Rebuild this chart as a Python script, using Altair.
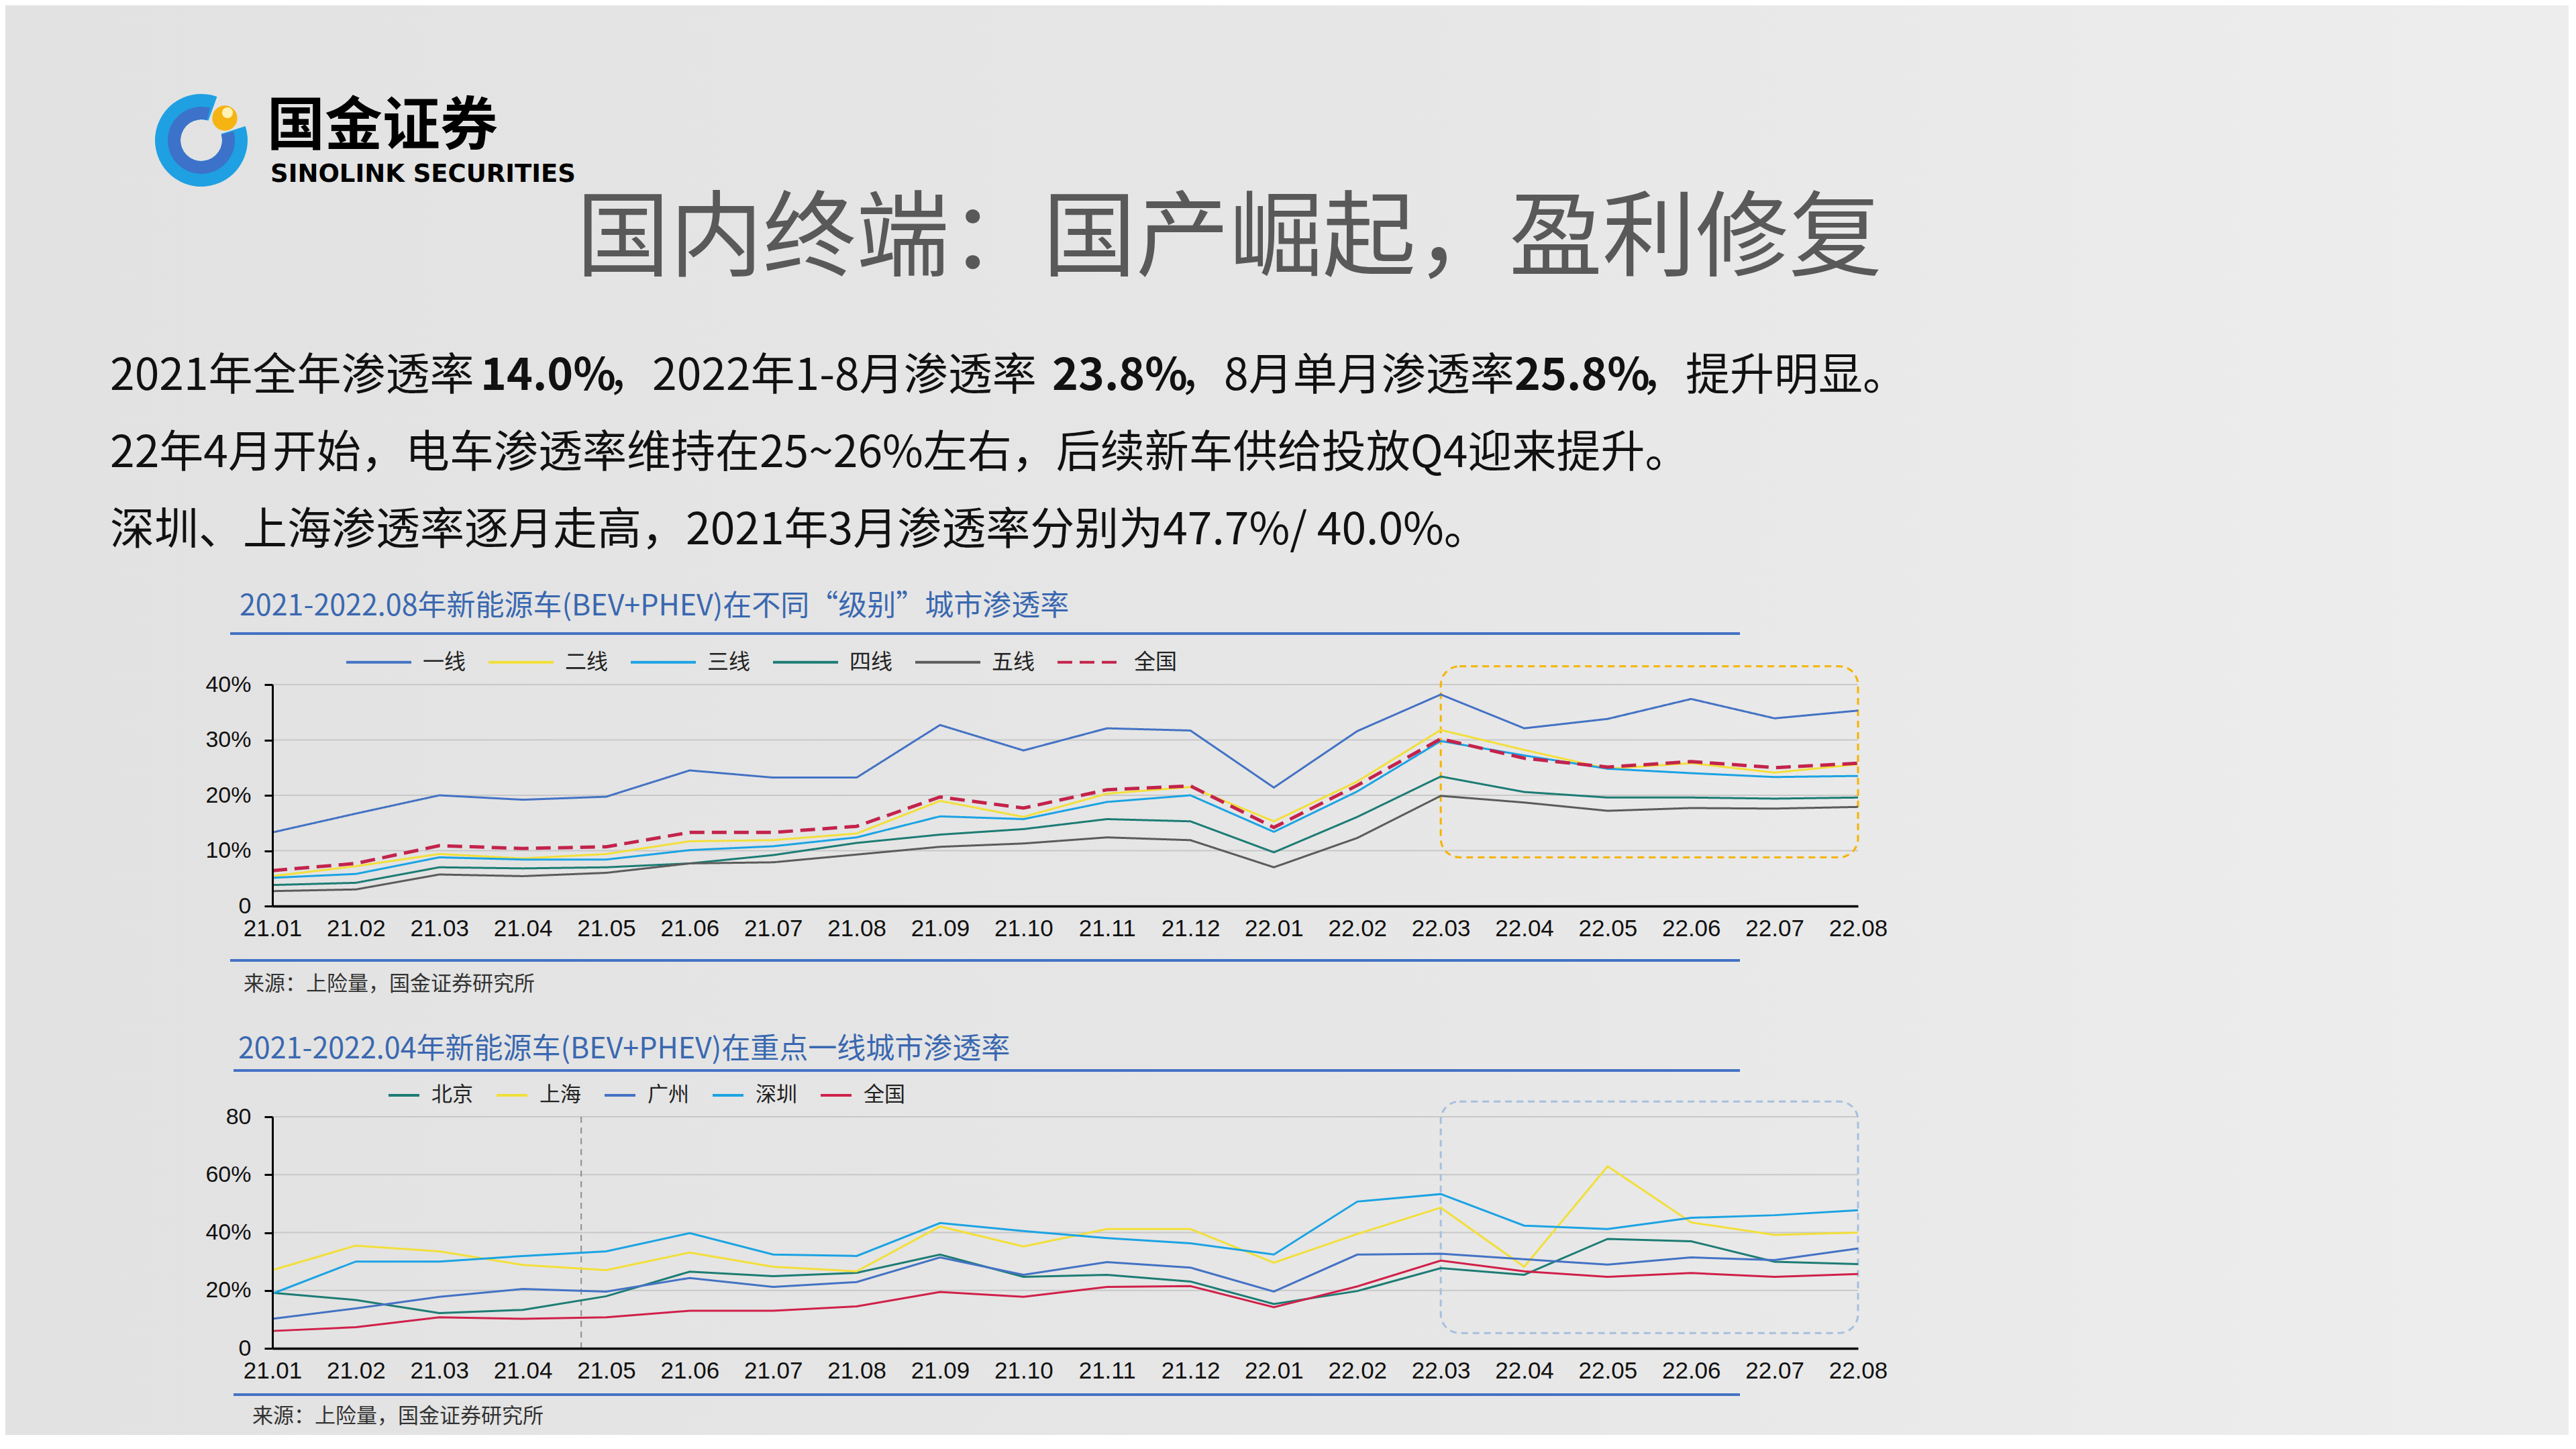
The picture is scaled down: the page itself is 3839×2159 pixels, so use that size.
import altair as alt
import pandas as pd

# ---------------- data ----------------
MONTHS = ["21.01", "21.02", "21.03", "21.04", "21.05", "21.06", "21.07", "21.08",
          "21.09", "21.10", "21.11", "21.12", "22.01", "22.02", "22.03", "22.04",
          "22.05", "22.06", "22.07", "22.08"]

SERIES1 = ["一线", "二线", "三线", "四线", "五线", "全国"]
COLORS1 = ["#4472C4", "#F2DF3A", "#1BA3E3", "#1D7C74", "#5B5B5B", "#C3234B"]
DASH1 = [[1, 0], [1, 0], [1, 0], [1, 0], [1, 0], [22, 11]]
TIER1 = [13.3, 16.7, 20.0, 19.2, 19.75, 24.5, 23.2, 23.2, 32.7, 28.1, 32.1, 31.7, 21.4, 31.6, 38.2, 32.1, 33.8, 37.4, 33.9, 35.3]
TIER2 = [5.4, 7.2, 9.4, 8.6, 9.4, 11.7, 11.9, 13.1, 19.0, 16.1, 20.3, 21.5, 15.3, 22.5, 31.8, 28.2, 24.8, 25.8, 24.1, 25.6]
TIER3 = [5.1, 5.8, 8.8, 8.4, 8.4, 10.1, 10.8, 12.4, 16.2, 15.7, 18.8, 20.0, 13.4, 20.7, 29.8, 27.2, 24.8, 24.0, 23.3, 23.5]
TIER4 = [3.8, 4.2, 7.0, 6.8, 7.0, 7.7, 9.2, 11.4, 12.9, 13.9, 15.7, 15.3, 9.7, 16.1, 23.4, 20.6, 19.6, 19.6, 19.4, 19.6]
TIER5 = [2.7, 3.0, 5.7, 5.4, 6.0, 7.7, 7.9, 9.3, 10.7, 11.3, 12.4, 11.9, 7.0, 12.3, 19.9, 18.7, 17.2, 17.7, 17.6, 17.9]
NATION1 = [6.4, 7.7, 10.9, 10.4, 10.7, 13.3, 13.3, 14.4, 19.7, 17.7, 21.0, 21.7, 14.2, 21.8, 30.2, 26.7, 25.1, 26.1, 25.0, 25.8]

SERIES2 = ["北京", "上海", "广州", "深圳", "全国"]
COLORS2 = ["#1D7C74", "#F2DF3A", "#4472C4", "#1BA3E3", "#D0204A"]
BJ = [19.2, 16.7, 12.2, 13.3, 18.0, 26.5, 24.9, 26.1, 32.4, 24.7, 25.4, 23.1, 15.3, 19.8, 27.7, 25.4, 37.8, 37.0, 29.9, 29.1]
SH = [27.0, 35.5, 33.5, 28.8, 27.0, 33.1, 28.2, 26.6, 42.1, 35.2, 41.2, 41.2, 29.6, 39.5, 48.6, 28.2, 62.9, 43.5, 39.2, 40.0]
GZ = [10.2, 13.8, 17.8, 20.5, 19.6, 24.3, 21.2, 22.9, 31.4, 25.4, 29.8, 27.9, 19.6, 32.4, 32.7, 30.8, 28.9, 31.4, 30.5, 34.5]
SZ = [18.9, 30.0, 30.0, 31.9, 33.5, 39.8, 32.4, 31.9, 43.3, 40.5, 38.1, 36.3, 32.4, 50.7, 53.3, 42.4, 41.2, 45.1, 46.0, 47.7]
NATION2 = [6.0, 7.3, 10.7, 10.2, 10.7, 13.0, 13.0, 14.5, 19.5, 17.8, 21.2, 21.5, 14.2, 21.4, 30.3, 26.6, 24.7, 26.0, 24.7, 25.7]

GRID1 = [10, 20, 30, 40]
TICKS1 = [0, 10, 20, 30, 40]
GRID2 = [20, 40, 60, 80]
TICKS2 = [0, 20, 40, 60, 80]
BOX1 = {"x0": MONTHS.index("22.03"), "x1": MONTHS.index("22.08"), "y0": 8.8, "y1": 43.3}
BOX2 = {"x0": MONTHS.index("22.03"), "x1": MONTHS.index("22.08"), "y0": 5.3, "y1": 85.3}
DIVIDER2 = [3.7]

TITLE = "国内终端：国产崛起，盈利修复"
LINE1 = [("2021年全年渗透率 ", "normal"), ("14.0%", "bold"), ("，2022年1-8月渗透率 ", "normal"),
         ("23.8%", "bold"), ("，8月单月渗透率", "normal"), ("25.8%", "bold"), ("，提升明显。", "normal")]
LINE2 = "22年4月开始，电车渗透率维持在25~26%左右，后续新车供给投放Q4迎来提升。"
LINE3 = "深圳、上海渗透率逐月走高，2021年3月渗透率分别为47.7%/ 40.0%。"
CHART1_TITLE = "2021-2022.08年新能源车(BEV+PHEV)在不同“级别”城市渗透率"
CHART2_TITLE = "2021-2022.04年新能源车(BEV+PHEV)在重点一线城市渗透率"
SOURCE = "来源：上险量，国金证券研究所"

# ---------------- layout ----------------
W, H = 3820, 2130
CJK = "Noto Sans CJK SC"
LAT = "Liberation Sans"
X0, X1 = 398, 2761
Y1_0, Y1_TOP = 1342, 1012
Y2_0, Y2_TOP = 2001, 1656
ONE = pd.DataFrame({"k": [0]})

def long_df(series, arrays):
    rows = []
    for s, vals in zip(series, arrays):
        for i, (m, v) in enumerate(zip(MONTHS, vals)):
            rows.append({"idx": i, "month": m, "series": s, "value": v})
    return pd.DataFrame(rows)

df1 = long_df(SERIES1, [TIER1, TIER2, TIER3, TIER4, TIER5, NATION1])
df2 = long_df(SERIES2, [BJ, SH, GZ, SZ, NATION2])

label_expr = "[" + ",".join("'%s'" % m for m in MONTHS) + "][datum.value]"
n_last = len(MONTHS) - 1
xs = alt.Scale(domain=[0, n_last], range=[X0, X1], nice=False, zero=False)
ys1 = alt.Scale(domain=[0, 40], range=[Y1_0, Y1_TOP], nice=False)
ys2 = alt.Scale(domain=[0, 80], range=[Y2_0, Y2_TOP], nice=False)

def x_axis(ypos):
    return alt.Axis(orient="bottom", offset=-(H - ypos), values=list(range(len(MONTHS))),
                    labelExpr=label_expr, ticks=False, grid=False, domainColor="#000",
                    domainWidth=3.5, labelFont=LAT, labelFontSize=35, labelColor="#111",
                    labelPadding=16, labelOverlap=False, labelFlush=False, title=None, zindex=2)

def y_axis(values, expr):
    return alt.Axis(orient="left", offset=-X0, values=values, labelExpr=expr, grid=False,
                    domainColor="#000", domainWidth=3, tickColor="#000", tickWidth=3,
                    tickSize=12, labelFont=LAT, labelFontSize=34, labelColor="#111",
                    labelPadding=20, title=None, zindex=2)

def txt(s, x, y, size, color="#111", weight="normal", font=CJK, align="left", baseline="middle"):
    return alt.Chart(ONE).mark_text(text=s, fontSize=size, color=color, fontWeight=weight,
                                    font=font, align=align, baseline=baseline).encode(
        x=alt.value(x), y=alt.value(y))

def hrule(x0, x1, y, color="#4472C4", width=4):
    return alt.Chart(ONE).mark_rule(color=color, strokeWidth=width).encode(
        x=alt.value(x0), x2=alt.value(x1), y=alt.value(y))

# ---------------- background & header ----------------
bg = alt.Chart(ONE).mark_rect(fill=alt.LinearGradient(
    gradient="linear", x1=0, x2=1, y1=0, y2=0,
    stops=[alt.GradientStop(color="#E2E2E2", offset=0),
           alt.GradientStop(color="#E6E6E6", offset=0.5),
           alt.GradientStop(color="#EDEDED", offset=1)])).encode(
    x=alt.value(0), x2=alt.value(W), y=alt.value(0), y2=alt.value(H))

ring_outer = alt.Chart(ONE).mark_arc(radius=69, radius2=31, theta=1.26, theta2=6.63, color="#1FA0E2").encode(
    x=alt.value(292), y=alt.value(201))
ring_inner = alt.Chart(ONE).mark_arc(radius=50, radius2=31, theta=1.3, theta2=6.55, color="#3C72C9").encode(
    x=alt.value(292), y=alt.value(201))
ball = alt.Chart(ONE).mark_circle(size=1390, color="#F5B412", opacity=1).encode(x=alt.value(327), y=alt.value(168))
ball_hi = alt.Chart(ONE).mark_circle(size=260, color="#FFF2B5", opacity=1).encode(x=alt.value(331), y=alt.value(160))

header = [
    txt("国金证券", 390, 182, 86, color="#000", weight="bold"),
    txt("SINOLINK SECURITIES", 395, 263, 37, color="#000", weight="bold", font="DejaVu Sans", baseline="alphabetic"),
    txt(TITLE, 1824, 350, 139, color="#595959", align="center"),
]
seg_x = [156, 708, 898, 1560, 1750, 2249, 2438]
body = [txt(s, x, 553, 66, weight=w) for (s, w), x in zip(LINE1, seg_x)]
body += [txt(LINE2, 156, 668, 66), txt(LINE3, 156, 783, 66)]

# ---------------- chart 1 ----------------
leg1 = alt.Legend(orient="none", legendX=506, legendY=928, direction="horizontal", title=None,
                  symbolType="stroke", symbolSize=9409, symbolStrokeWidth=4, labelFont=CJK,
                  labelFontSize=32, labelColor="#222", labelOffset=15, columnPadding=25,
                  padding=0, labelLimit=400, zindex=2)
grid1 = alt.Chart(pd.DataFrame({"v": GRID1, "a": 0, "b": n_last})).mark_rule(color="#C8C8C8", strokeWidth=2).encode(
    x=alt.X("a:Q", scale=xs, axis=None), x2="b:Q", y=alt.Y("v:Q", scale=ys1, axis=None))
box1 = alt.Chart(pd.DataFrame([BOX1])).mark_rect(fillOpacity=0, stroke="#F5B400", strokeWidth=3,
                                                 strokeDash=[10, 7], cornerRadius=28).encode(
    x=alt.X("x0:Q", scale=xs, axis=None), x2="x1:Q", y=alt.Y("y0:Q", scale=ys1, axis=None), y2="y1:Q")
lines1 = alt.Chart(df1).mark_line().encode(
    x=alt.X("idx:Q", scale=xs, axis=x_axis(Y1_0)),
    y=alt.Y("value:Q", scale=ys1, axis=y_axis(TICKS1, "datum.value == 0 ? '0' : datum.value + '%'")),
    color=alt.Color("series:N", scale=alt.Scale(domain=SERIES1, range=COLORS1), legend=leg1, sort=SERIES1),
    strokeDash=alt.StrokeDash("series:N", scale=alt.Scale(domain=SERIES1, range=DASH1), legend=leg1, sort=SERIES1),
    strokeWidth=alt.condition(alt.datum.series == "全国", alt.value(5), alt.value(3)),
    order=alt.Order("idx:Q"),
)

# ---------------- chart 2 ----------------
leg2 = alt.Legend(orient="none", legendX=569, legendY=1599, direction="horizontal", title=None,
                  symbolType="stroke", symbolSize=2116, symbolStrokeWidth=4, labelFont=CJK,
                  labelFontSize=31, labelColor="#222", labelOffset=16, columnPadding=27,
                  padding=0, labelLimit=400, zindex=2)
grid2 = alt.Chart(pd.DataFrame({"v": GRID2, "a": 0, "b": n_last})).mark_rule(color="#C8C8C8", strokeWidth=2).encode(
    x=alt.X("a:Q", scale=xs, axis=None), x2="b:Q", y=alt.Y("v:Q", scale=ys2, axis=None))
divider = alt.Chart(pd.DataFrame({"d": DIVIDER2, "a": 0, "b": 80})).mark_rule(
    color="#8E8E8E", strokeWidth=2, strokeDash=[9, 7]).encode(
    x=alt.X("d:Q", scale=xs, axis=None), y=alt.Y("a:Q", scale=ys2, axis=None), y2="b:Q")
box2 = alt.Chart(pd.DataFrame([BOX2])).mark_rect(fillOpacity=0, stroke="#A7BFDE", strokeWidth=3,
                                                 strokeDash=[10, 7], cornerRadius=28).encode(
    x=alt.X("x0:Q", scale=xs, axis=None), x2="x1:Q", y=alt.Y("y0:Q", scale=ys2, axis=None), y2="y1:Q")
lines2 = alt.Chart(df2).mark_line(strokeWidth=3).encode(
    x=alt.X("idx:Q", scale=xs, axis=x_axis(Y2_0)),
    y=alt.Y("value:Q", scale=ys2, axis=y_axis(TICKS2, "datum.value == 0 ? '0' : (datum.value == 80 ? '80' : datum.value + '%')")),
    color=alt.Color("series:N", scale=alt.Scale(domain=SERIES2, range=COLORS2), legend=leg2, sort=SERIES2),
    order=alt.Order("idx:Q"),
)

# ---------------- chart frames ----------------
frames = [
    txt(CHART1_TITLE, 349, 896, 43, color="#3A68B0"),
    hrule(335, 2585, 936),
    hrule(335, 2585, 1423),
    txt(SOURCE, 355, 1459, 31, color="#333"),
    txt(CHART2_TITLE, 347, 1556, 43, color="#3A68B0"),
    hrule(340, 2585, 1587),
    hrule(340, 2585, 2070),
    txt(SOURCE, 368, 2103, 31, color="#333"),
]

chart = alt.layer(
    bg, ring_outer, ring_inner, ball, ball_hi, *header, *body, *frames,
    grid1, box1, lines1, grid2, divider, box2, lines2
).resolve_scale(
    x="independent", y="independent", color="independent", strokeDash="independent"
).properties(
    width=W, height=H, autosize=alt.AutoSizeParams(type="none"), padding=0, background="#E6E6E6"
).configure_view(strokeWidth=0)

chart.save("out.html", embed_options={"renderer": "svg", "actions": False})
